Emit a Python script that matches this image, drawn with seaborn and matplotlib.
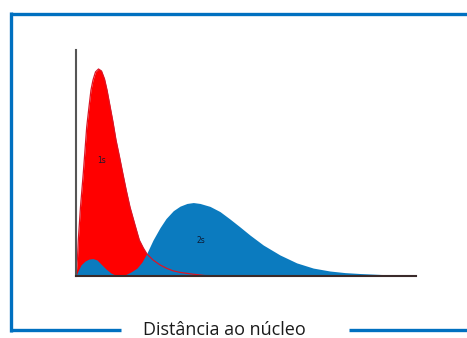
import matplotlib
matplotlib.use("Agg")
import matplotlib.pyplot as plt
import seaborn as sns
import pandas as pd
from matplotlib.lines import Line2D

# 1s radial probability (distance, probability)
dist_1s = [0.000, 0.044, 0.068, 0.132, 0.215, 0.315, 0.382, 0.441, 0.500, 0.574,
           0.662, 0.750, 0.838, 0.912, 1.000, 1.088, 1.176, 1.280, 1.374, 1.480,
           1.588, 1.735, 1.862, 1.980, 2.088, 2.265, 2.471, 2.668, 2.853, 3.059,
           3.441, 3.794, 4.529, 10.0]
prob_1s = [0.000, 0.080, 0.159, 0.305, 0.456, 0.659, 0.748, 0.823, 0.867, 0.903,
           0.916, 0.907, 0.872, 0.823, 0.752, 0.681, 0.602, 0.527, 0.456, 0.378,
           0.305, 0.226, 0.159, 0.124, 0.097, 0.071, 0.049, 0.034, 0.023, 0.016,
           0.008, 0.002, 0.000, 0.000]

# 2s radial probability
dist_2s = [0.000, 0.059, 0.147, 0.265, 0.382, 0.500, 0.618, 0.735, 0.882, 1.029,
           1.176, 1.324, 1.471, 1.618, 1.794, 1.941, 2.088, 2.265, 2.471, 2.647,
           2.862, 3.059, 3.265, 3.450, 3.647, 3.941, 4.235, 4.529, 4.824, 5.118,
           5.509, 6.000, 6.491, 6.979, 7.471, 7.912, 8.353, 8.941, 9.441, 10.0]
prob_2s = [0.000, 0.022, 0.049, 0.066, 0.075, 0.077, 0.071, 0.053, 0.031, 0.013,
           0.003, 0.001, 0.007, 0.018, 0.035, 0.062, 0.102, 0.159, 0.214, 0.254,
           0.289, 0.309, 0.321, 0.325, 0.321, 0.308, 0.285, 0.252, 0.217, 0.181,
           0.137, 0.093, 0.058, 0.035, 0.022, 0.015, 0.011, 0.007, 0.003, 0.000]

x_label = "Distância ao núcleo"

df1 = pd.DataFrame({"dist": dist_1s, "prob": prob_1s})
df2 = pd.DataFrame({"dist": dist_2s, "prob": prob_2s})

sns.set_style("white")

fig = plt.figure(figsize=(4.67, 3.38), dpi=100)
ax = fig.add_axes([76 / 467, 62 / 338, 340 / 467, 226 / 338])

red = "#ff0000"
blue = "#0b7bbf"

# fills: red first, blue on top, then red outline over everything
ax.fill_between(df1["dist"], df1["prob"], color=red, lw=0, zorder=1)
ax.fill_between(df2["dist"], df2["prob"], color=blue, lw=0, zorder=2)
sns.lineplot(data=df1, x="dist", y="prob", color="#dc1424", lw=0.9, ax=ax, zorder=3)

ax.text(0.765, 0.513, "1s", fontsize=5.5, color="#1a1a2e", ha="center", va="center", zorder=4)
ax.text(3.68, 0.159, "2s", fontsize=5.5, color="#0d1a33", ha="center", va="center", zorder=4)

ax.set_xlim(0, 10)
ax.set_ylim(0, 1)
ax.set_xticks([])
ax.set_yticks([])
ax.set_xlabel("")
ax.set_ylabel("")
for side in ["top", "right"]:
    ax.spines[side].set_visible(False)
ax.spines["left"].set_color("#555555")
ax.spines["left"].set_linewidth(1.5)
ax.spines["bottom"].set_color("#3a2a2a")
ax.spines["bottom"].set_linewidth(1.5)
ax.spines["left"].set_zorder(5)
ax.spines["bottom"].set_zorder(5)

# blue frame around the slide, broken at the bottom for the label
frame = "#0070c0"
W, H = 467.0, 338.0
def fx(px):
    return px / W
def fy(py):
    return 1 - py / H
lw = 2.4
fig.add_artist(Line2D([fx(11), fx(470)], [fy(13.5), fy(13.5)], color=frame, lw=lw, solid_capstyle="butt"))
fig.add_artist(Line2D([fx(11), fx(11)], [fy(12), fy(331.5)], color=frame, lw=lw, solid_capstyle="butt"))
fig.add_artist(Line2D([fx(9.5), fx(120.5)], [fy(330), fy(330)], color=frame, lw=lw, solid_capstyle="butt"))
fig.add_artist(Line2D([fx(349), fx(470)], [fy(330), fy(330)], color=frame, lw=lw, solid_capstyle="butt"))

fig.text(fx(224.5), fy(330), x_label, fontsize=13, family="Open Sans",
         color="#1a1a1a", ha="center", va="center")

fig.savefig("out.png", dpi=100)
